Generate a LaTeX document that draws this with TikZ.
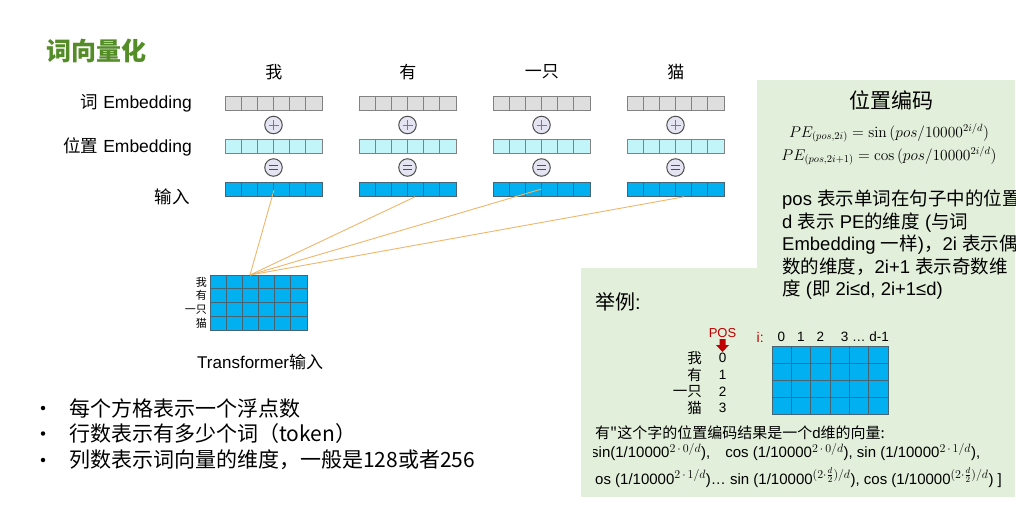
\RequirePackage{fix-cm}
\documentclass[tikz,border=0pt]{standalone}
\usepackage[no-math]{fontspec}
\setmainfont{Liberation Sans}
\newfontfamily\cjk{Noto Sans CJK SC}
\usetikzlibrary{calc}
\DeclareMathSizes{15.5}{15.5}{10.5}{8}
\DeclareMathSizes{15}{15}{12}{8.5}
\definecolor{titlegreen}{RGB}{84,140,40}
\definecolor{panelgreen}{RGB}{226,239,218}
\definecolor{cellgray}{RGB}{222,222,222}
\definecolor{cellcyan}{RGB}{194,245,250}
\definecolor{cellblue}{RGB}{0,176,240}
\definecolor{bordergray}{RGB}{130,130,130}
\definecolor{borderblue}{RGB}{70,100,115}
\definecolor{linkorange}{RGB}{240,182,105}
\definecolor{posred}{RGB}{192,0,0}
\definecolor{opfill}{RGB}{228,228,242}
\definecolor{opdraw}{RGB}{80,80,80}
\definecolor{opsym}{RGB}{120,120,150}
\newcommand\zh[1]{{\cjk #1}}
\newcommand\fs[1]{\fontsize{#1}{#1}\selectfont}
\newcommand\embrow[5]{%
  \node[barbox, fill=#4, draw=#5, anchor=north west] (#1) at (#2,#3) {};
  \foreach \k in {1,...,5}{\draw[draw=#5, line width=0.8pt] ($(#1.north west)+(\k*97/6,0)$) -- ($(#1.south west)+(\k*97/6,0)$);}
}
\begin{document}
\begin{tikzpicture}[x=1pt,y=-1pt,
  barbox/.style={rectangle, minimum width=97pt, minimum height=14pt, inner sep=0pt, line width=0.8pt},
  opc/.style={circle, minimum size=17.5pt, inner sep=0pt, fill=opfill, draw=opdraw, line width=1pt},
  plusline/.style={draw=opsym, line width=0.7pt},
  eqline/.style={draw=opdraw, line width=1.2pt},
  word/.style={font=\cjk\fs{17}, inner sep=0pt},
  leftlbl/.style={anchor=east, font=\fs{17.5}, inner sep=0pt},
  link/.style={draw=linkorange, line width=0.9pt},
  panel/.style={fill=panelgreen, draw=none, inner sep=0pt, anchor=north west},
  para/.style={anchor=base west, font=\fs{18.5}, inner sep=0pt},
  bullettxt/.style={anchor=west, font=\cjk\fs{21}, inner sep=0pt},
  bulletdot/.style={circle, fill=black, minimum size=4.5pt, inner sep=0pt}
]
\useasboundingbox (0,0) rectangle (1030,512);
\fill[white] (0,0) rectangle (1030,512);

% title
\node[anchor=west, font=\cjk\bfseries\fs{25}, text=titlegreen, inner sep=0pt] (title) at (46,51) {词向量化};

% left labels
\node[leftlbl] (lw) at (192,103) {\zh{词} Embedding};
\node[leftlbl] (lp) at (192,147) {\zh{位置} Embedding};
\node[leftlbl] (li) at (190,197) {\zh{输入}};

% embedding bars
\foreach \i/\x in {1/225,2/359,3/493,4/627}{
  \embrow{g\i}{\x}{96}{cellgray}{bordergray}
  \embrow{c\i}{\x}{139}{cellcyan}{bordergray}
  \embrow{b\i}{\x}{182}{cellblue}{borderblue}
  \node[opc] (p\i) at (\x+48.5,125) {};
  \draw[plusline] ($(p\i)+(-5,0)$) -- ($(p\i)+(5,0)$);
  \draw[plusline] ($(p\i)+(0,-5)$) -- ($(p\i)+(0,5)$);
  \node[opc] (q\i) at (\x+48.5,167.5) {};
  \draw[eqline] ($(q\i)+(-4.5,-2.2)$) -- ($(q\i)+(4.5,-2.2)$);
  \draw[eqline] ($(q\i)+(-4.5,2.2)$) -- ($(q\i)+(4.5,2.2)$);
}
\foreach \i/\w in {1/我,2/有,3/一只,4/猫}{
  \node[word] (w\i) at ($(g\i.north)+(0,-24)$) {\w};
}

% transformer input matrix
\node[anchor=north west, minimum width=96.6pt, minimum height=55pt, inner sep=0pt, fill=cellblue, draw=borderblue, line width=0.8pt] (tm) at (210,275) {};
\foreach \k in {1,...,5}{\draw[borderblue, line width=0.8pt] ($(tm.north west)+(\k*16.1,0)$) -- ($(tm.south west)+(\k*16.1,0)$);}
\foreach \k in {1,...,3}{\draw[borderblue, line width=0.8pt] ($(tm.north west)+(0,\k*13.75)$) -- ($(tm.north east)+(0,\k*13.75)$);}
\foreach \r/\w in {1/我,2/有,3/一只,4/猫}{
  \node[anchor=east, font=\cjk\fs{11}, inner sep=0pt] (tl\r) at (207,275+13.75*\r-6.875) {\w};
}
\node[anchor=west, font=\fs{17}, inner sep=0pt] (tmcap) at (197,362) {Transformer\zh{输入}};

% connectors
\coordinate (hub) at ($(tm.north west)+(40,0)$);
\coordinate (e1) at ($(b1.north west)+(49,8)$);
\coordinate (e2) at ($(b2.south west)+(56,0)$);
\coordinate (e3) at ($(b3.north west)+(48.5,7)$);
\coordinate (e4) at ($(b4.south west)+(57,0)$);
\foreach \i in {1,...,4}{\draw[link] (hub) -- (e\i);}

% green panels
\node[panel, minimum width=258pt, minimum height=220pt] (pepanel) at (757,80) {};
\node[panel, minimum width=434pt, minimum height=229pt] (expanel) at (581,268) {};

\begin{scope}
\clip (0,0) rectangle (1015,512);
\node[font=\cjk\fs{21}, inner sep=0pt] (petitle) at (891,100) {位置编码};
\node[font=\fs{15.5}, inner sep=0pt] (f1) at (889,133) {$PE_{(pos,2i)} = \sin\,(pos/10000^{2i/d})$};
\node[font=\fs{15.5}, inner sep=0pt] (f2) at (889,156) {$PE_{(pos,2i+1)} = \cos\,(pos/10000^{2i/d})$};
\node[para] (t1) at (782,205.5) {pos \zh{表示单词在句子中的位置}};
\node[para] (t2) at (782,228) {d \zh{表示} PE\zh{的维度} (\zh{与词}};
\node[para] (t3) at (782,250.5) {Embedding \zh{一样})\zh{，}2i \zh{表示偶}};
\node[para] (t4) at (782,273) {\zh{数的维度，}2i+1 \zh{表示奇数维}};
\node[para] (t5) at (782,295.5) {\zh{度} (\zh{即} 2i≤d, 2i+1≤d)};

% example
\node[anchor=west, font=\fs{20}, inner sep=0pt] (ex) at (595,302) {\zh{举例}:};
\node[font=\fs{13}, text=posred, inner sep=0pt] (pos) at (722.5,333) {POS};
\coordinate (arr) at (722.5,339);
\fill[posred] ($(arr)+(-3,0)$) -- ($(arr)+(3,0)$) -- ($(arr)+(3,6)$) -- ($(arr)+(6.5,6)$) -- ($(arr)+(0,13)$) -- ($(arr)+(-6.5,6)$) -- ($(arr)+(-3,6)$) -- cycle;
\node[anchor=west, font=\fs{14}, text=posred, inner sep=0pt] (ilbl) at (756.5,337) {i:};
\node[anchor=north west, minimum width=116.6pt, minimum height=68pt, inner sep=0pt, fill=cellblue, draw=borderblue, line width=0.8pt] (em) at (771.7,346) {};
\foreach \k in {1,...,5}{\draw[borderblue, line width=0.8pt] ($(em.north west)+(\k*19.43,0)$) -- ($(em.south west)+(\k*19.43,0)$);}
\foreach \k in {1,...,3}{\draw[borderblue, line width=0.8pt] ($(em.north west)+(0,\k*17)$) -- ($(em.north east)+(0,\k*17)$);}
\foreach \c/\n in {1/0,2/1,3/2}{
  \node[font=\fs{13.5}, inner sep=0pt] (ci\c) at ($(em.north west)+(\c*19.43-9.7,-9)$) {\n};
}
\node[anchor=east, font=\fs{13.5}, inner sep=0pt] (cirest) at ($(em.north east)+(0,-9)$) {3 … d-1};
\foreach \r/\w/\n in {1/我/0,2/有/1,3/一只/2,4/猫/3}{
  \node[anchor=east, font=\cjk\fs{14.5}, inner sep=0pt] (er\r) at (702,341.5+16.7*\r) {\w};
  \node[font=\fs{13.5}, inner sep=0pt] (en\r) at (722.5,341.5+16.7*\r) {\n};
}
\end{scope}
\begin{scope}
\clip (593,0) rectangle (1015,512);
\node[anchor=base west, font=\fs{15}, inner sep=0pt] (ln1) at (595,438) {\zh{有"这个字的位置编码结果是一个}d\zh{维的向量:}};
\node[anchor=base west, font=\fs{15}, inner sep=0pt] (ln2) at (591,457.5) {sin(1/10000$^{2\,\cdot\,0/d}$),\quad cos (1/10000$^{2\,\cdot\,0/d}$), sin (1/10000$^{2\,\cdot\,1/d}$),};
\node[anchor=base west, font=\fs{15}, inner sep=0pt] (ln3) at (595,484) {os (1/10000$^{2\,\cdot\,1/d}$)… sin (1/10000$^{(2\cdot\frac{d}{2})/d}$), cos (1/10000$^{(2\cdot\frac{d}{2})/d}$) ]};
\end{scope}

% bullets
\foreach \i/\y/\t in {1/408/每个方格表示一个浮点数,2/433.5/行数表示有多少个词（token）,3/460/列数表示词向量的维度，一般是128或者256}{
  \node[bulletdot] (bd\i) at (43,\y) {};
  \node[bullettxt] (bt\i) at (69,\y) {\t};
}
\end{tikzpicture}
\end{document}
